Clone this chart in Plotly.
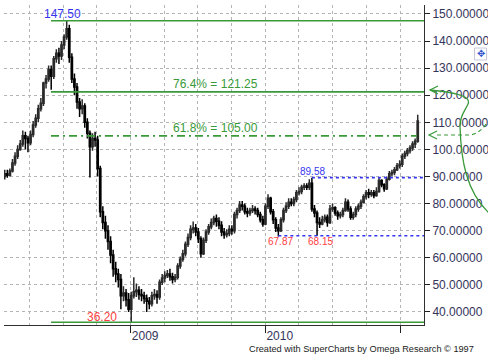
import plotly.graph_objects as go
import pandas as pd

# ---------------- data (weekly candles) ----------------
week_start = "2008-01-25"

opens = [
    90, 91, 90.5, 92, 95, 97.5, 100, 102, 105, 104,
    102.5, 105.5, 109, 111.5, 115, 117, 124.5, 126, 129.5, 127,
    133.5, 135.5, 134.5, 138.5, 141.5, 144.5, 134, 126, 123, 117.5,
    115, 116, 110, 106, 101, 104, 103.5, 93, 77, 73,
    70, 66, 61, 56, 54, 52, 46, 47, 44.5, 41,
    46, 47.5, 48, 46.5, 46, 45, 44, 43, 46, 46.5,
    45.5, 51, 52.5, 53.5, 54, 53, 52, 52.8, 57, 59.5,
    61.5, 65, 67.5, 70.5, 71, 69.5, 67, 61.5, 66.5, 69.5,
    71.5, 73, 74.5, 73.5, 72, 69.5, 68.5, 69, 70.5, 70,
    76, 77.5, 79.5, 79, 77, 76.5, 77.5, 78, 77.5, 76,
    74, 72.5, 79, 82, 77, 74, 71, 70, 74, 77.5,
    79, 80.5, 80, 81.5, 84, 84.5, 86, 86.5, 86, 87.5,
    78, 76.5, 73, 72.5, 74, 75, 73, 78, 78.5, 76.5,
    75.5, 76, 77.5, 80.5, 78, 75, 76, 78, 79, 80.5,
    82.5, 84, 83.5, 84, 83, 84.5, 88.5, 87, 85.5, 89,
    91, 91.5, 92.5, 94, 94.5, 97.5, 98.5, 99.5, 100.5, 102, 103,
]
highs = [
    92.5, 92.5, 93, 96.5, 99, 101.5, 103.5, 107, 106.5, 105,
    107, 110.5, 113, 116.5, 119, 125, 127.5, 131, 131, 134.5,
    137, 137.5, 140, 142.5, 147.5, 146, 135.5, 128, 124.5, 119,
    118.5, 117, 111.5, 107, 106, 106.5, 105, 94, 79, 75.5,
    72, 68, 63, 58.5, 56, 54, 49.5, 48.5, 47, 47.5,
    52.8, 50.5, 49.5, 48.5, 47.5, 46.5, 45.5, 47.5, 48.5, 48,
    52, 54, 55, 55.5, 56, 54.5, 54, 58, 60.5, 63,
    66, 69, 72, 73.4, 72.5, 71, 68, 67.5, 70.5, 72.5,
    74.5, 75.5, 76, 75, 73.5, 71, 70.5, 72, 72, 77,
    78.5, 81, 81, 80, 78.5, 78.5, 79.5, 79, 78.5, 77,
    75.5, 80, 83.5, 82.5, 78, 75, 72.5, 75, 78.5, 80.5,
    82, 82, 82.5, 85, 86, 87, 87.5, 87.5, 89, 89.58,
    79.5, 77.5, 75, 75.5, 76, 76, 79.5, 80, 79, 77.5,
    77, 78.5, 82, 81.5, 79, 77, 79, 80, 81.5, 83.5,
    85, 85.5, 85, 85, 86, 89.5, 89, 87.5, 90, 92,
    92.5, 93.5, 95, 96, 98.5, 99.5, 100.5, 101.5, 103, 104, 112.8,
]
lows = [
    88.9, 89.5, 90, 91.5, 94, 96.5, 99.5, 101, 100, 99,
    101.5, 104.5, 108, 110, 114, 116, 122.5, 125, 122, 126,
    132, 131.5, 133, 137, 140.5, 132, 124.5, 120, 115, 112,
    113, 108, 104, 89.6, 99.5, 101, 90, 75, 70.5, 67,
    63, 58, 53, 51, 49, 41, 44, 42, 40, 36.2,
    45, 45.5, 44.5, 44, 43, 40, 41, 42, 44.5, 43,
    44.5, 50, 51, 52.5, 51.5, 50.5, 51, 52, 56, 58.5,
    60.5, 64, 66.5, 69, 68, 65.5, 60, 61, 65.5, 68.5,
    70.5, 72, 71.5, 70.5, 68, 67, 67.5, 68, 68.5, 69,
    74.5, 76.5, 77.5, 76, 75, 75.5, 76.5, 76, 75, 73,
    71.5, 72, 78, 76, 72.5, 69.5, 67.87, 69.5, 73, 76.5,
    78, 79, 79, 80.5, 83, 83.5, 85, 85, 85, 77,
    75, 68.15, 71, 72, 73, 71.5, 72.5, 77, 75.5, 74,
    74.5, 75, 77, 77, 74, 74, 75, 77, 78, 80,
    81.5, 82, 82.5, 82, 82.5, 84, 86, 84.4, 85, 88.5,
    90, 90.5, 92, 93, 93.5, 96.5, 97.5, 98.5, 99.5, 100.5, 102.5,
]
closes = [
    91, 90.5, 92, 95, 97.5, 100, 102, 105, 104, 102.5,
    105.5, 109, 111.5, 115, 117, 124.5, 126, 129.5, 127, 133.5,
    135.5, 134.5, 138.5, 141.5, 144.5, 134, 126, 123, 117.5, 115,
    116, 110, 106, 101, 104, 103.5, 93, 77, 73, 70,
    66, 61, 56, 54, 52, 46, 47, 44.5, 41, 46,
    47.5, 48, 46.5, 46, 45, 44, 43, 46, 46.5, 45.5,
    51, 52.5, 53.5, 54, 53, 52, 52.8, 57, 59.5, 61.5,
    65, 67.5, 70.5, 71, 69.5, 67, 61.5, 66.5, 69.5, 71.5,
    73, 74.5, 73.5, 72, 69.5, 68.5, 69, 70.5, 70, 76,
    77.5, 79.5, 79, 77, 76.5, 77.5, 78, 77.5, 76, 74,
    72.5, 79, 82, 77, 74, 71, 70, 74, 77.5, 79,
    80.5, 80, 81.5, 84, 84.5, 86, 86.5, 86, 87.5, 78,
    76.5, 73, 72.5, 74, 75, 73, 78, 78.5, 76.5, 75.5,
    76, 77.5, 80.5, 78, 75, 76, 78, 79, 80.5, 82.5,
    84, 83.5, 84, 83, 84.5, 88.5, 87, 85.5, 89, 91,
    91.5, 92.5, 94, 94.5, 97.5, 98.5, 99.5, 100.5, 102, 103, 110.5,
]

n = min(len(opens), len(highs), len(lows), len(closes))
dates = pd.date_range(week_start, periods=n, freq="7D")

# Fibonacci levels / swing points
fib_high = 147.50
fib_764 = 121.25
fib_618 = 105.00
fib_low = 36.20
swing_high = 89.58
swing_low1 = 67.87
swing_low2 = 68.15

y_ticks = list(range(40, 151, 10))
y_ticktext = [f"{v:.5f}" for v in y_ticks]
year_ticks = ["2009-01-01", "2010-01-01", "2011-01-01"]
year_text = ["2009", "2010", ""]
x_end = "2011-03-07"

# ---------------- layout geometry (pixels) ----------------
W, H = 488, 363
L, R, T, B = 4, 64, 5, 38
PW, PH = W - L - R, H - T - B


def px(xp):
    return (xp - L) / PW


def py(yp):
    return (H - B - yp) / PH


GREEN = "#3a9a3a"
BLUE = "#3535f0"
RED = "#ff4040"
NAVY = "#34345a"
FONT = "Liberation Sans, Arial, sans-serif"

fig = go.Figure()
fig.add_trace(go.Candlestick(
    x=dates[:n], open=opens[:n], high=highs[:n], low=lows[:n], close=closes[:n],
    increasing=dict(line=dict(color="#2a2a2a", width=1.5), fillcolor="#8c8c8c"),
    decreasing=dict(line=dict(color="#000000", width=1.5), fillcolor="#000000"),
    whiskerwidth=0, showlegend=False, hoverinfo="skip",
))

shapes = []
# fibonacci lines
for lvl, dash, xend in [(fib_high, "solid", 1.0), (fib_764, "solid", 1.0),
                        (fib_618, "8px,4px,2px,4px", px(417)), (fib_low, "solid", 1.0)]:
    shapes.append(dict(type="line", xref="paper", yref="y", x0=px(51), x1=xend,
                       y0=lvl, y1=lvl, line=dict(color=GREEN, width=1.6, dash=dash)))
# swing dotted lines
shapes.append(dict(type="line", xref="x", yref="y", x0=dates[119], x1=x_end,
                   y0=swing_high, y1=swing_high, line=dict(color=BLUE, width=1.6, dash="dot")))
shapes.append(dict(type="line", xref="x", yref="y", x0=dates[106], x1=x_end,
                   y0=swing_low2, y1=swing_low2, line=dict(color=BLUE, width=1.6, dash="dot")))


# hand-drawn decoration on the right (paper coords)
def P(x, y):
    return f"{px(x):.4f},{py(y):.4f}"


curve = (f"M {P(430,90)} C {P(450,92)} {P(472,95)} {P(468,104)} "
         f"C {P(465,111)} {P(460,115)} {P(460,126)} "
         f"C {P(461,160)} {P(466,192)} {P(490,214)}")
shapes.append(dict(type="path", xref="paper", yref="paper", path=curve,
                   line=dict(color=GREEN, width=1.3)))
shapes.append(dict(type="path", xref="paper", yref="paper",
                   path=f"M {P(438,86)} L {P(430,90)} L {P(438,94)}",
                   line=dict(color=GREEN, width=1.3)))
dcurve = f"M {P(437,135)} L {P(470,135)} C {P(478,134)} {P(484,128)} {P(490,119)}"
shapes.append(dict(type="path", xref="paper", yref="paper", path=dcurve,
                   line=dict(color=GREEN, width=1.2, dash="4px,3px")))
shapes.append(dict(type="path", xref="paper", yref="paper",
                   path=f"M {P(437,131)} L {P(429,135)} L {P(437,139)}",
                   line=dict(color=GREEN, width=1.2)))
# small "move" handle box
shapes.append(dict(type="rect", xref="paper", yref="paper",
                   x0=px(474.5), x1=px(486.5), y0=py(60), y1=py(48),
                   line=dict(color="#c8c8d8", width=1), fillcolor="white"))

ann = []


def label(text, x, y, color, size=12, xanchor="center"):
    ann.append(dict(text=text, xref="paper", yref="paper", x=px(x), y=py(y),
                    xanchor=xanchor, yanchor="middle", showarrow=False,
                    font=dict(color=color, size=size, family=FONT)))


label(f"{fib_high:.2f}", 62, 13.5, BLUE, 12)
label(f"76.4% = {fib_764:.2f}", 215, 83.5, GREEN, 12)
label(f"61.8% = {fib_618:.2f}", 215, 128, GREEN, 12)
label(f"{fib_low:.2f}", 102, 317, RED, 12)
label(f"{swing_high:.2f}", 312.5, 171, BLUE, 10)
label(f"{swing_low1:.2f}", 280, 241, RED, 10)
label(f"{swing_low2:.2f}", 320, 241, RED, 10)
label("Created with SuperCharts by Omega Research © 1997", 476, 349, "#222222", 9.2, "right")
ann.append(dict(text="✥", xref="paper", yref="paper", x=px(480.5), y=py(54),
                xanchor="center", yanchor="middle", showarrow=False,
                font=dict(color="#3355cc", size=10, family="DejaVu Sans")))

fig.update_layout(
    template="none",
    width=W, height=H,
    margin=dict(l=L, r=R, t=T, b=B, pad=0),
    paper_bgcolor="white", plot_bgcolor="white",
    font=dict(family=FONT, size=12, color=NAVY),
    showlegend=False,
    shapes=shapes, annotations=ann,
    xaxis=dict(
        type="date", range=["2008-01-23", x_end],
        rangeslider=dict(visible=False),
        tickmode="array", tickvals=year_ticks, ticktext=year_text,
        ticks="outside", ticklen=7, tickcolor="#202020", tickwidth=1,
        ticklabelposition="outside right",
        tickfont=dict(size=12, color=NAVY, family=FONT),
        showline=True, linecolor="#303030", linewidth=1,
        showgrid=True, gridcolor="#b4b4b4", griddash="dot", gridwidth=1,
        minor=dict(dtick="M3", tick0="2008-01-01", showgrid=True,
                   gridcolor="#b4b4b4", griddash="dot", gridwidth=1, ticks=""),
        zeroline=False, automargin=False, fixedrange=True,
    ),
    yaxis=dict(
        side="right", range=[35.2, 153.3],
        tickmode="array", tickvals=y_ticks, ticktext=y_ticktext,
        ticks="outside", ticklen=5, tickcolor="#202020",
        tickfont=dict(size=12, color=NAVY, family=FONT),
        showline=True, linecolor="#303030", linewidth=1,
        showgrid=True, gridcolor="#b4b4b4", griddash="dot", gridwidth=1,
        zeroline=False, automargin=False, fixedrange=True,
    ),
)

fig.write_html(
    "out.html",
    config={"displayModeBar": False},
    post_script="document.body.style.margin='0';document.body.style.overflow='hidden';",
)
